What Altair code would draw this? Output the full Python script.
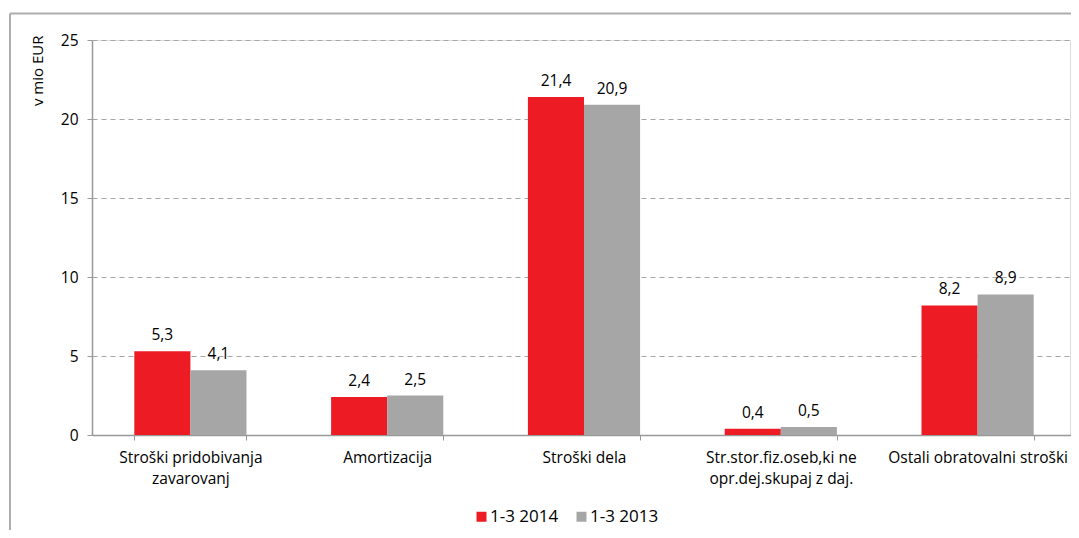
import altair as alt
import pandas as pd

categories = [
    "Stroški pridobivanja|zavarovanj",
    "Amortizacija",
    "Stroški dela",
    "Str.stor.fiz.oseb,ki ne|opr.dej.skupaj z daj.",
    "Ostali obratovalni stroški",
]
series = ["1-3 2014", "1-3 2013"]
values_2014 = [5.3, 2.4, 21.4, 0.4, 8.2]
values_2013 = [4.1, 2.5, 20.9, 0.5, 8.9]
colors = ["#ED1C24", "#A6A6A6"]

rows = []
for c, v in zip(categories, values_2014):
    rows.append({"cat": c, "series": series[0], "value": v})
for c, v in zip(categories, values_2013):
    rows.append({"cat": c, "series": series[1], "value": v})
df = pd.DataFrame(rows)
df["label"] = df["value"].map(lambda v: f"{v:.1f}".replace(".", ","))

FONT = "Open Sans"
FS = 15.5
W, H = 978, 395
BAND_RANGE = 984

x_enc = alt.X(
    "cat:N",
    sort=categories,
    scale=alt.Scale(paddingInner=0.43, paddingOuter=0.215, range=[0, BAND_RANGE]),
    axis=alt.Axis(
        title=None,
        labelAngle=0,
        labelExpr="split(datum.label, '|')",
        tickBand="extent",
        tickSize=5,
        tickColor="#999999",
        domainColor="#999999",
        domainWidth=1.5,
        labelPadding=10,
        labelFontSize=FS,
        labelLineHeight=21,
        labelColor="#000000",
        labelFont=FONT,
        grid=False,
    ),
)
xoff = alt.XOffset("series:N", sort=series, scale=alt.Scale(paddingInner=0, paddingOuter=0))

bars = alt.Chart(df).mark_bar().encode(
    x=x_enc,
    xOffset=xoff,
    y=alt.Y(
        "value:Q",
        scale=alt.Scale(domain=[0, 25], nice=False),
        axis=alt.Axis(
            title="v mio EUR",
            values=[0, 5, 10, 15, 20, 25],
            format="d",
            tickSize=5,
            tickColor="#999999",
            domainColor="#999999",
            domainWidth=1.5,
            labelPadding=9,
            labelFontSize=FS,
            labelColor="#000000",
            labelFont=FONT,
            gridColor="#A6A6A6",
            gridDash=[5, 4],
            gridWidth=1.2,
            titleFont=FONT,
            titleFontSize=15,
            titleFontWeight="normal",
            titleColor="#000000",
            titleAngle=270,
            titleAlign="right",
            titleBaseline="middle",
            titleX=-55,
            titleY=-5,
        ),
    ),
    color=alt.Color(
        "series:N",
        sort=series,
        scale=alt.Scale(domain=series, range=colors),
        legend=alt.Legend(
            title=None,
            orient="none",
            direction="horizontal",
            legendX=381,
            legendY=468,
            symbolType="square",
            symbolSize=100,
            symbolStrokeWidth=0,
            labelFontSize=17,
            labelFont=FONT,
            labelColor="#000000",
            labelOffset=0,
            columnPadding=14,
        ),
    ),
)

texts = alt.Chart(df).mark_text(
    baseline="alphabetic", dy=-11, fontSize=FS, font=FONT, color="#000000"
).encode(
    x=alt.X("cat:N", sort=categories),
    xOffset=xoff,
    y="value:Q",
    text="label:N",
)

frame_h = alt.Chart(pd.DataFrame({"a": [0]})).mark_rule(color="#ADADAD", strokeWidth=2).encode(
    x=alt.value(-82), x2=alt.value(1100), y=alt.value(-26.5)
)
frame_v = alt.Chart(pd.DataFrame({"a": [0]})).mark_rule(color="#ADADAD", strokeWidth=2).encode(
    x=alt.value(-82), y=alt.value(-26.5), y2=alt.value(600)
)

chart = (
    alt.layer(bars, texts, frame_h, frame_v)
    .properties(
        width=W,
        height=H,
        autosize=alt.AutoSizeParams(type="none"),
        padding={"left": 84, "top": 32, "right": 1, "bottom": 95},
    )
    .configure_view(stroke="#A6A6A6", strokeWidth=1.5)
    .configure(background="white")
)

chart.save("out.html", embed_options={"renderer": "svg", "actions": False})
